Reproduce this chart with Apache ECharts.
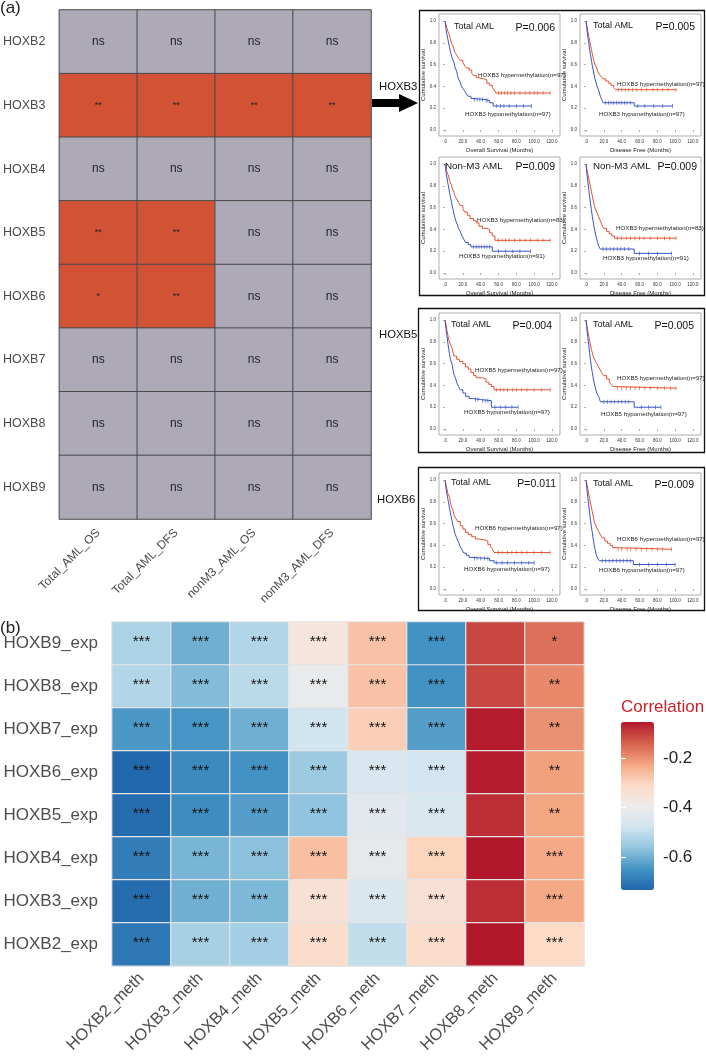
<!DOCTYPE html>
<html>
<head>
<meta charset="utf-8">
<script src="https://cdn.jsdelivr.net/npm/echarts@6/dist/echarts.min.js"></script>
<style>html,body{margin:0;padding:0;background:#fff}#chart{width:706px;height:1056px}</style>
</head>
<body>
<div id="chart"></div>
<script>
// (a) methylation vs survival significance
var survGenes = ['HOXB2', 'HOXB3', 'HOXB4', 'HOXB5', 'HOXB6', 'HOXB7', 'HOXB8', 'HOXB9'];
var survCohorts = ['Total_AML_OS', 'Total_AML_DFS', 'nonM3_AML_OS', 'nonM3_AML_DFS'];
var survSig = [
  ['ns', 'ns', 'ns', 'ns'],
  ['**', '**', '**', '**'],
  ['ns', 'ns', 'ns', 'ns'],
  ['**', '**', 'ns', 'ns'],
  ['*', '**', 'ns', 'ns'],
  ['ns', 'ns', 'ns', 'ns'],
  ['ns', 'ns', 'ns', 'ns'],
  ['ns', 'ns', 'ns', 'ns']
];

// Kaplan-Meier curves, [months, cumulative survival]; censor times in months
var b3TotOsHyper = [[0,1],[1,0.97],[2,0.94],[3,0.91],[5,0.87],[6,0.84],[7,0.8],[9,0.77],[10,0.74],[11,0.71],[13,0.69],[15,0.66],[17,0.64],[20,0.62],[22,0.59],[24,0.57],[27,0.55],[30,0.52],[32,0.5],[35,0.48],[38,0.47],[44,0.46],[47,0.43],[50,0.41],[53,0.39],[55,0.37],[57,0.34],[118,0.34]];
var b3TotOsHyperCens = [60,63,67,70,74,78,84,90,95,100,104,110,118];
var b3TotOsHypo = [[0,1],[1,0.93],[2,0.88],[3,0.84],[4,0.8],[5,0.76],[6,0.72],[7,0.69],[8,0.66],[10,0.62],[11,0.58],[13,0.54],[14,0.5],[15,0.47],[17,0.44],[18,0.41],[20,0.38],[22,0.36],[24,0.33],[26,0.31],[29,0.29],[31,0.28],[45,0.27],[50,0.25],[54,0.22],[97,0.22]];
var b3TotOsHypoCens = [33,36,39,42,46,48,58,62,66,72,80,88,97];

var b3TotDfsHyper = [[0,1],[1,0.95],[2,0.91],[3,0.86],[4,0.82],[5,0.78],[6,0.74],[7,0.7],[8,0.66],[9,0.63],[10,0.6],[12,0.57],[13,0.54],[15,0.51],[17,0.49],[19,0.47],[22,0.45],[25,0.43],[28,0.41],[31,0.39],[33,0.37],[101,0.37]];
var b3TotDfsHyperCens = [36,40,44,48,52,57,62,68,75,80,86,92,101];
var b3TotDfsHypo = [[0,1],[1,0.92],[2,0.86],[3,0.8],[4,0.74],[5,0.69],[6,0.64],[7,0.59],[8,0.55],[9,0.51],[10,0.47],[11,0.44],[12,0.41],[14,0.37],[15,0.34],[16,0.31],[17,0.29],[18,0.27],[19,0.25],[54,0.22],[97,0.22]];
var b3TotDfsHypoCens = [22,25,28,31,34,37,40,43,46,50,58,66,76,86,97];

var b3NonOsHyper = [[0,1],[1,0.96],[2,0.93],[4,0.89],[5,0.85],[7,0.81],[8,0.78],[10,0.74],[11,0.71],[13,0.68],[15,0.65],[17,0.62],[20,0.59],[22,0.56],[25,0.53],[28,0.5],[32,0.48],[35,0.46],[38,0.43],[42,0.41],[47,0.4],[50,0.37],[53,0.34],[56,0.3],[118,0.3]];
var b3NonOsHyperCens = [60,64,68,72,78,84,90,96,104,110,118];
var b3NonOsHypo = [[0,1],[1,0.93],[2,0.88],[3,0.83],[4,0.79],[5,0.74],[6,0.7],[7,0.66],[8,0.62],[9,0.58],[10,0.54],[11,0.51],[12,0.48],[14,0.44],[15,0.41],[17,0.38],[19,0.34],[21,0.31],[23,0.28],[26,0.26],[29,0.24],[53,0.2],[96,0.2]];
var b3NonOsHypoCens = [32,35,38,41,44,47,50,60,68,76,84,96];

var b3NonDfsHyper = [[0,1],[1,0.95],[2,0.91],[3,0.87],[4,0.83],[5,0.79],[6,0.75],[7,0.71],[8,0.67],[9,0.63],[10,0.6],[12,0.56],[14,0.52],[16,0.48],[18,0.44],[20,0.41],[23,0.38],[26,0.36],[29,0.34],[32,0.32],[101,0.32]];
var b3NonDfsHyperCens = [35,40,45,50,55,60,65,72,80,88,94,101];
var b3NonDfsHypo = [[0,1],[1,0.91],[2,0.84],[3,0.77],[4,0.7],[5,0.64],[6,0.58],[7,0.52],[8,0.47],[9,0.42],[10,0.38],[11,0.34],[12,0.31],[13,0.28],[14,0.25],[16,0.22],[54,0.18],[96,0.18]];
var b3NonDfsHypoCens = [19,23,27,31,35,39,43,48,60,70,80,96];

var b5TotOsHyper = [[0,1],[1,0.96],[2,0.91],[3,0.87],[4,0.82],[6,0.78],[8,0.74],[9,0.7],[10,0.67],[13,0.64],[16,0.62],[20,0.6],[23,0.57],[26,0.55],[29,0.52],[32,0.49],[35,0.47],[42,0.46],[46,0.43],[49,0.41],[52,0.39],[55,0.36],[118,0.36]];
var b5TotOsHyperCens = [58,62,66,70,76,80,86,92,100,108,118];
var b5TotOsHypo = [[0,1],[1,0.92],[2,0.86],[3,0.8],[4,0.74],[5,0.69],[6,0.64],[8,0.59],[9,0.54],[10,0.5],[12,0.46],[13,0.43],[15,0.39],[17,0.36],[20,0.33],[23,0.3],[27,0.28],[31,0.27],[40,0.26],[52,0.2],[82,0.2]];
var b5TotOsHypoCens = [34,37,42,45,48,56,62,68,75,82];

var b5TotDfsHyper = [[0,1],[1,0.95],[2,0.9],[3,0.85],[4,0.81],[5,0.77],[6,0.73],[7,0.7],[8,0.67],[10,0.63],[12,0.6],[14,0.57],[16,0.54],[18,0.51],[20,0.49],[23,0.46],[26,0.43],[28,0.41],[30,0.39],[32,0.375],[101,0.375]];
var b5TotDfsHyperCens = [35,40,45,50,55,60,66,72,80,88,95,101];
var b5TotDfsHypo = [[0,1],[1,0.91],[2,0.84],[3,0.77],[4,0.7],[5,0.63],[6,0.57],[7,0.52],[8,0.47],[9,0.43],[10,0.39],[11,0.36],[12,0.33],[14,0.3],[15,0.28],[16,0.25],[54,0.2],[84,0.2]];
var b5TotDfsHypoCens = [20,24,28,32,36,40,44,48,62,70,78,84];

var b6TotOsHyper = [[0,1],[1,0.96],[2,0.92],[3,0.88],[5,0.84],[6,0.8],[7,0.76],[9,0.72],[10,0.68],[12,0.65],[14,0.62],[17,0.58],[20,0.55],[23,0.52],[26,0.5],[30,0.48],[34,0.46],[38,0.45],[45,0.44],[48,0.41],[51,0.39],[53,0.37],[55,0.335],[118,0.335]];
var b6TotOsHyperCens = [60,64,70,75,80,86,92,100,108,118];
var b6TotOsHypo = [[0,1],[1,0.93],[2,0.88],[3,0.83],[4,0.79],[5,0.74],[6,0.7],[7,0.66],[8,0.62],[9,0.58],[10,0.55],[11,0.51],[13,0.47],[15,0.43],[17,0.39],[19,0.36],[21,0.33],[24,0.31],[27,0.29],[30,0.28],[50,0.26],[55,0.24],[100,0.24]];
var b6TotOsHypoCens = [33,36,40,44,48,58,64,70,78,86,94,100];

var b6TotDfsHyper = [[0,1],[1,0.96],[2,0.92],[3,0.87],[4,0.83],[5,0.79],[6,0.75],[7,0.71],[8,0.67],[9,0.63],[10,0.6],[12,0.56],[14,0.53],[16,0.5],[18,0.47],[21,0.44],[24,0.42],[27,0.4],[30,0.38],[32,0.365],[96,0.365]];
var b6TotDfsHyperCens = [36,40,46,50,56,62,68,74,80,86,96];
var b6TotDfsHypo = [[0,1],[1,0.91],[2,0.84],[3,0.77],[4,0.7],[5,0.63],[6,0.57],[7,0.52],[8,0.46],[9,0.41],[10,0.37],[11,0.33],[12,0.3],[13,0.28],[15,0.26],[53,0.225],[100,0.225]];
var b6TotDfsHypoCens = [18,22,26,30,34,38,42,46,50,60,70,80,90,100];

var kmTicksX = [0, 20, 40, 60, 80, 100, 120];
var kmTicksY = [0, 0.2, 0.4, 0.6, 0.8, 1.0];

// (b) expression vs methylation correlation
var expGenes = ['HOXB9_exp', 'HOXB8_exp', 'HOXB7_exp', 'HOXB6_exp', 'HOXB5_exp', 'HOXB4_exp', 'HOXB3_exp', 'HOXB2_exp'];
var methGenes = ['HOXB2_meth', 'HOXB3_meth', 'HOXB4_meth', 'HOXB5_meth', 'HOXB6_meth', 'HOXB7_meth', 'HOXB8_meth', 'HOXB9_meth'];
var corrValues = [
  [-0.53, -0.60, -0.52, -0.36, -0.27, -0.65, -0.11, -0.16],
  [-0.52, -0.58, -0.51, -0.41, -0.27, -0.65, -0.11, -0.19],
  [-0.64, -0.645, -0.60, -0.48, -0.29, -0.63, -0.06, -0.20],
  [-0.73, -0.665, -0.65, -0.55, -0.46, -0.475, -0.06, -0.22],
  [-0.72, -0.66, -0.63, -0.565, -0.43, -0.455, -0.08, -0.225],
  [-0.69, -0.59, -0.57, -0.265, -0.42, -0.30, -0.055, -0.23],
  [-0.72, -0.60, -0.585, -0.34, -0.45, -0.34, -0.08, -0.23],
  [-0.70, -0.535, -0.54, -0.32, -0.50, -0.32, -0.055, -0.31]
];
var corrSig = [
  ['***', '***', '***', '***', '***', '***', '', '*'],
  ['***', '***', '***', '***', '***', '***', '', '**'],
  ['***', '***', '***', '***', '***', '***', '', '**'],
  ['***', '***', '***', '***', '***', '***', '', '**'],
  ['***', '***', '***', '***', '***', '***', '', '**'],
  ['***', '***', '***', '***', '***', '***', '', '***'],
  ['***', '***', '***', '***', '***', '***', '', '***'],
  ['***', '***', '***', '***', '***', '***', '', '***']
];
var corrRange = [-0.733, -0.055];
var corrTicks = [-0.6, -0.4, -0.2];

var RED = '#e4512f', BLUE = '#3953c4';
var FONT = '"Liberation Sans", Arial, sans-serif';

var kmPanels = [
  {left: 439, top: 14, cohort: 'Total AML', p: 'P=0.006', gene: 'HOXB3', nHyper: 97, nHypo: 97, os: true,
   hyper: b3TotOsHyper, hyperCens: b3TotOsHyperCens, hypo: b3TotOsHypo, hypoCens: b3TotOsHypoCens,
   tY: 13, tX: 15, pX: 116, hyLab: [39, 61], hoLab: [26, 100]},
  {left: 580, top: 14, cohort: 'Total AML', p: 'P=0.005', gene: 'HOXB3', nHyper: 97, nHypo: 97, os: false,
   hyper: b3TotDfsHyper, hyperCens: b3TotDfsHyperCens, hypo: b3TotDfsHypo, hypoCens: b3TotDfsHypoCens,
   tY: 12, tX: 13, pX: 115, hyLab: [37, 70], hoLab: [19, 100]},
  {left: 439, top: 157, cohort: 'Non-M3 AML', p: 'P=0.009', gene: 'HOXB3', nHyper: 83, nHypo: 91, os: true,
   hyper: b3NonOsHyper, hyperCens: b3NonOsHyperCens, hypo: b3NonOsHypo, hypoCens: b3NonOsHypoCens,
   tY: 9, tX: 6, pX: 116, hyLab: [38, 63], hoLab: [20, 99]},
  {left: 580, top: 157, cohort: 'Non-M3 AML', p: 'P=0.009', gene: 'HOXB3', nHyper: 83, nHypo: 91, os: false,
   hyper: b3NonDfsHyper, hyperCens: b3NonDfsHyperCens, hypo: b3NonDfsHypo, hypoCens: b3NonDfsHypoCens,
   tY: 9, tX: 13, pX: 117, hyLab: [36, 71], hoLab: [23, 101]},
  {left: 439, top: 313, cohort: 'Total AML', p: 'P=0.004', gene: 'HOXB5', nHyper: 97, nHypo: 97, os: true,
   hyper: b5TotOsHyper, hyperCens: b5TotOsHyperCens, hypo: b5TotOsHypo, hypoCens: b5TotOsHypoCens,
   tY: 12, tX: 12, pX: 113, hyLab: [36, 57], hoLab: [25, 99]},
  {left: 580, top: 313, cohort: 'Total AML', p: 'P=0.005', gene: 'HOXB5', nHyper: 97, nHypo: 97, os: false,
   hyper: b5TotDfsHyper, hyperCens: b5TotDfsHyperCens, hypo: b5TotDfsHypo, hypoCens: b5TotDfsHypoCens,
   tY: 12, tX: 13, pX: 114, hyLab: [37, 65], hoLab: [21, 101]},
  {left: 439, top: 473, cohort: 'Total AML', p: 'P=0.011', gene: 'HOXB6', nHyper: 97, nHypo: 97, os: true,
   hyper: b6TotOsHyper, hyperCens: b6TotOsHyperCens, hypo: b6TotOsHypo, hypoCens: b6TotOsHypoCens,
   tY: 10, tX: 12, pX: 117, hyLab: [36, 55], hoLab: [25, 96]},
  {left: 580, top: 473, cohort: 'Total AML', p: 'P=0.009', gene: 'HOXB6', nHyper: 97, nHypo: 97, os: false,
   hyper: b6TotDfsHyper, hyperCens: b6TotDfsHyperCens, hypo: b6TotDfsHypo, hypoCens: b6TotDfsHypoCens,
   tY: 11, tX: 13, pX: 114, hyLab: [37, 66], hoLab: [19, 97]}
];

function stepAt(curve, t) {
  var s = curve[0][1];
  for (var i = 0; i < curve.length; i++) {
    if (curve[i][0] <= t) s = curve[i][1];
  }
  return s;
}

var grids = [], xAxes = [], yAxes = [], series = [], elements = [];

// top heatmap
grids.push({left: 56, top: 10, width: 315, height: 509});
xAxes.push({type: 'category', gridIndex: 0, data: survCohorts,
  axisLine: {show: false}, axisTick: {show: false},
  axisLabel: {rotate: 45, fontSize: 12, color: '#4a4a4a', margin: 12, interval: 0}});
yAxes.push({type: 'category', gridIndex: 0, data: survGenes, inverse: true,
  axisLine: {show: false}, axisTick: {show: false},
  axisLabel: {fontSize: 12.5, color: '#4a4a4a', margin: 14}});
var topData = [];
survSig.forEach(function (row, y) {
  row.forEach(function (s, x) {
    topData.push({value: [x, y, s === 'ns' ? 0 : 1],
      itemStyle: {color: s === 'ns' ? '#ada9b7' : '#d15234'}});
  });
});
series.push({type: 'heatmap', xAxisIndex: 0, yAxisIndex: 0, data: topData,
  itemStyle: {borderColor: '#4a4a4a', borderWidth: 1},
  label: {show: true, formatter: function (p) {
    var s = survSig[p.value[1]][p.value[0]];
    return s === 'ns' ? '{n|ns}' : '{s|' + s + '}';
  }, rich: {n: {fontSize: 12, color: '#222'}, s: {fontSize: 9, color: '#222'}}},
  emphasis: {disabled: true}});

// KM panels
kmPanels.forEach(function (k, i) {
  var gi = i + 1;
  grids.push({left: k.left, top: k.top, width: 121, height: 122, show: true,
    borderColor: '#9a9a9a', borderWidth: 0.8, backgroundColor: '#fff'});
  xAxes.push({type: 'value', gridIndex: gi, min: -6.8, max: 129,
    name: k.os ? 'Overall Survival (Months)' : 'Disease Free (Months)',
    nameLocation: 'middle', nameGap: 11, nameTextStyle: {fontSize: 6, color: '#222'},
    axisLine: {show: false}, splitLine: {show: false},
    axisTick: {show: true, length: 2, lineStyle: {color: '#777', width: 0.6}, customValues: kmTicksX},
    axisLabel: {fontSize: 4.5, color: '#333', margin: 3, customValues: kmTicksX,
      formatter: function (v) { return v === 0 ? '.0' : v.toFixed(1); }}});
  yAxes.push({type: 'value', gridIndex: gi, min: -0.055, max: 1.065,
    name: 'Cumulative survival', nameLocation: 'middle', nameGap: 12,
    nameTextStyle: {fontSize: 6, color: '#222'},
    axisLine: {show: false}, splitLine: {show: false},
    axisTick: {show: true, length: 2, lineStyle: {color: '#777', width: 0.6}, customValues: kmTicksY},
    axisLabel: {fontSize: 4.5, color: '#333', margin: 3, customValues: kmTicksY,
      formatter: function (v) { return v.toFixed(1); }}});
  [[k.hyper, k.hyperCens, RED], [k.hypo, k.hypoCens, BLUE]].forEach(function (c) {
    series.push({type: 'line', xAxisIndex: gi, yAxisIndex: gi, data: c[0], step: 'end',
      symbol: 'none', lineStyle: {color: c[2], width: 1}, silent: true, animation: false});
    series.push({type: 'scatter', xAxisIndex: gi, yAxisIndex: gi,
      data: c[1].map(function (t) { return [t, stepAt(c[0], t)]; }),
      symbol: 'rect', symbolSize: [0.8, 4], itemStyle: {color: c[2]}, silent: true, animation: false});
  });
  elements.push({type: 'text', x: k.left + k.tX, y: k.top + k.tY,
    style: {text: k.cohort, fontSize: k.cohort === 'Total AML' ? 9 : 9.8, fontFamily: FONT, fill: '#111', align: 'left', verticalAlign: 'middle'}});
  elements.push({type: 'text', x: k.left + k.pX, y: k.top + k.tY + 1,
    style: {text: k.p, fontSize: 10.5, fontFamily: FONT, fill: '#111', align: 'right', verticalAlign: 'middle'}});
  elements.push({type: 'text', x: k.left + k.hyLab[0], y: k.top + k.hyLab[1],
    style: {text: k.gene + ' hypermethylation(n=' + k.nHyper + ')', fontSize: 6.2, fontFamily: FONT, fill: '#222', align: 'left', verticalAlign: 'middle'}});
  elements.push({type: 'text', x: k.left + k.hoLab[0], y: k.top + k.hoLab[1],
    style: {text: k.gene + ' hypomethylation(n=' + k.nHypo + ')', fontSize: 6.2, fontFamily: FONT, fill: '#222', align: 'left', verticalAlign: 'middle'}});
});

// bottom heatmap
grids.push({left: 112, top: 622, width: 472, height: 345, show: true, backgroundColor: '#e4e4e4', borderWidth: 0});
xAxes.push({type: 'category', gridIndex: 9, data: methGenes,
  axisLine: {show: false}, axisTick: {show: false},
  axisLabel: {rotate: 45, fontSize: 16.5, color: '#4d4d4d', margin: 10, interval: 0}});
yAxes.push({type: 'category', gridIndex: 9, data: expGenes, inverse: true,
  axisLine: {show: false}, axisTick: {show: false},
  axisLabel: {fontSize: 17, color: '#4d4d4d', margin: 14}});
var corrData = [];
corrValues.forEach(function (row, y) {
  row.forEach(function (v, x) { corrData.push([x, y, v]); });
});
var corrSeriesIndex = series.length;
series.push({type: 'heatmap', xAxisIndex: 9, yAxisIndex: 9, data: corrData,
  itemStyle: {borderColor: '#e4e4e4', borderWidth: 1.2},
  label: {show: true, fontSize: 15, color: '#111', offset: [0, -2],
    formatter: function (p) { return corrSig[p.value[1]][p.value[0]]; }},
  emphasis: {disabled: true}});

// colour bar axes
grids.push({left: 621, top: 722, width: 33, height: 168});
xAxes.push({type: 'value', gridIndex: 10, show: false});
yAxes.push({type: 'value', gridIndex: 10, min: corrRange[0], max: corrRange[1], position: 'right', z: 10,
  axisLine: {show: false}, splitLine: {show: false},
  axisTick: {show: true, inside: true, length: 5, customValues: corrTicks, lineStyle: {color: '#fff', width: 1.2}},
  axisLabel: {fontSize: 17, color: '#222', margin: 9, customValues: corrTicks,
    formatter: function (v) { return v.toFixed(1); }}});
yAxes.push({type: 'value', gridIndex: 10, min: corrRange[0], max: corrRange[1], position: 'left', z: 10,
  axisLine: {show: false}, splitLine: {show: false},
  axisTick: {show: true, inside: true, length: 5, customValues: corrTicks, lineStyle: {color: '#fff', width: 1.2}},
  axisLabel: {show: false}});
series.push({type: 'scatter', xAxisIndex: 10, yAxisIndex: 10, data: []});

// decorations
elements.push({type: 'text', x: 0, y: 8, style: {text: '(a)', fontSize: 17, fontFamily: FONT, fill: '#222', verticalAlign: 'middle'}});
elements.push({type: 'text', x: 0, y: 628, style: {text: '(b)', fontSize: 17, fontFamily: FONT, fill: '#222', verticalAlign: 'middle'}});
elements.push({type: 'text', x: 379, y: 87, style: {text: 'HOXB3', fontSize: 11.3, fontFamily: FONT, fill: '#111', verticalAlign: 'middle'}});
elements.push({type: 'text', x: 379, y: 335, style: {text: 'HOXB5', fontSize: 11.3, fontFamily: FONT, fill: '#111', verticalAlign: 'middle'}});
elements.push({type: 'text', x: 377, y: 500, style: {text: 'HOXB6', fontSize: 11.3, fontFamily: FONT, fill: '#111', verticalAlign: 'middle'}});
elements.push({type: 'polygon', shape: {points: [[372, 99], [399, 99], [399, 94], [418, 103], [399, 112], [399, 107], [372, 107]]}, style: {fill: '#000'}});
elements.push({type: 'rect', shape: {x: 419.5, y: 10.5, width: 285, height: 285}, style: {fill: 'none', stroke: '#111', lineWidth: 1.3}});
elements.push({type: 'rect', shape: {x: 418.5, y: 308.5, width: 286, height: 144}, style: {fill: 'none', stroke: '#111', lineWidth: 1.3}});
elements.push({type: 'rect', shape: {x: 418.5, y: 467.5, width: 286, height: 143}, style: {fill: 'none', stroke: '#111', lineWidth: 1.3}});
elements.push({type: 'text', x: 621, y: 707, style: {text: 'Correlation', fontSize: 17, fontFamily: FONT, fill: '#cc2129', verticalAlign: 'middle'}});

var myChart = echarts.init(document.getElementById('chart'));
var option = {
  animation: false,
  textStyle: {fontFamily: FONT},
  grid: grids,
  xAxis: xAxes,
  yAxis: yAxes,
  visualMap: {
    type: 'continuous',
    seriesIndex: corrSeriesIndex,
    min: corrRange[0],
    max: corrRange[1],
    left: 621,
    top: 722,
    itemWidth: 33,
    itemHeight: 168,
    padding: 0,
    calculable: false,
    text: null,
    showLabel: false,
    inRange: {color: ['#2166ac', '#4393c3', '#92c5de', '#d1e5f0', '#efebea', '#fddbc7', '#f4a582', '#d6604d', '#b2182b']}
  },
  graphic: {elements: elements},
  series: series
};
myChart.setOption(option);
</script>
</body>
</html>
